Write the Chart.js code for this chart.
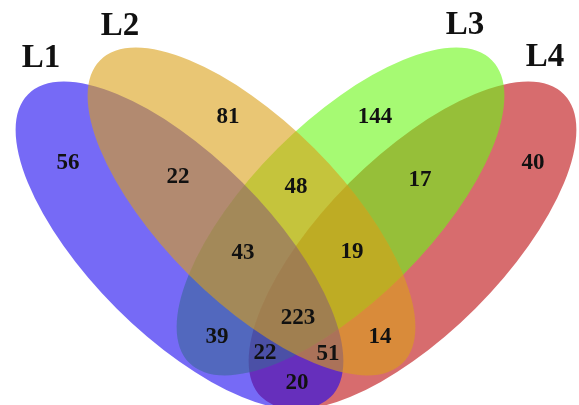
<!DOCTYPE html>
<html>
<head>
<meta charset="utf-8">
<script src="https://cdn.jsdelivr.net/npm/chart.js@4/dist/chart.umd.min.js"></script>
<style>
  html, body { margin: 0; padding: 0; background: #ffffff; }
  #wrap { position: relative; width: 579px; height: 405px; }
</style>
</head>
<body>
<div id="wrap"><canvas id="c"></canvas></div>
<script>
// ---- data ----
const setNames = ['L1', 'L2', 'L3', 'L4'];
// region membership keys (which sets the region belongs to)
const regionKeys = ['1', '2', '3', '4', '12', '23', '34', '14', '123', '234', '13', '24', '134', '124', '1234'];
const regionCounts = [56, 81, 144, 40, 22, 48, 17, 20, 43, 19, 39, 14, 22, 51, 223];

// ---- layout (positions in a 579 x 405 value space) ----
const regionAnchors = {
  '1': [68, 163], '2': [228, 117], '3': [375, 117], '4': [533, 163],
  '12': [178, 177], '23': [296, 187], '34': [420, 180], '14': [297, 383],
  '123': [243, 253], '234': [352, 252], '13': [217, 337], '24': [380, 337],
  '134': [265, 353], '124': [328, 354], '1234': [298, 318]
};
const ellipseShapes = {
  L1: { cx: 179.5, cy: 245.5, a: 214, b: 89, rot: 45 },
  L2: { cx: 251.5, cy: 211.5, a: 214, b: 89, rot: 45 },
  L3: { cx: 340.5, cy: 211.5, a: 214, b: 89, rot: -45 },
  L4: { cx: 412.5, cy: 245.5, a: 214, b: 89, rot: -45 }
};
const setLabelAnchors = { L1: [41, 58], L2: [120, 26], L3: [465, 25], L4: [545, 57] };
const setColors = {
  L1: 'rgba(27, 7, 240, 0.6)',
  L2: 'rgba(218, 160, 23, 0.6)',
  L3: 'rgba(107, 247, 22, 0.6)',
  L4: 'rgba(188, 10, 13, 0.6)'
};
const drawOrder = ['L4', 'L3', 'L1', 'L2'];

const points = regionKeys.map((k, i) => ({ x: regionAnchors[k][0], y: regionAnchors[k][1], v: regionCounts[i] }));

const vennPlugin = {
  id: 'venn',
  beforeDatasetsDraw(chart) {
    const { ctx, scales: { x, y } } = chart;
    ctx.save();
    drawOrder.forEach(name => {
      const e = ellipseShapes[name];
      const px = x.getPixelForValue(e.cx), py = y.getPixelForValue(e.cy);
      const ra = Math.abs(x.getPixelForValue(e.cx + e.a) - px);
      const rb = Math.abs(x.getPixelForValue(e.cx + e.b) - px);
      ctx.beginPath();
      ctx.ellipse(px, py, ra, rb, e.rot * Math.PI / 180, 0, Math.PI * 2);
      ctx.fillStyle = setColors[name];
      ctx.fill();
    });
    ctx.restore();
  },
  afterDatasetsDraw(chart) {
    const { ctx, scales: { x, y } } = chart;
    ctx.save();
    ctx.textAlign = 'center';
    ctx.textBaseline = 'middle';
    ctx.fillStyle = '#111111';
    ctx.font = 'bold 23px "Liberation Serif", serif';
    const meta = chart.getDatasetMeta(0);
    meta.data.forEach((el, i) => {
      ctx.fillText(String(chart.data.datasets[0].data[i].v), el.x, el.y);
    });
    ctx.font = 'bold 33px "Liberation Serif", serif';
    setNames.forEach(n => {
      const p = setLabelAnchors[n];
      ctx.fillText(n, x.getPixelForValue(p[0]), y.getPixelForValue(p[1]));
    });
    ctx.restore();
  }
};

new Chart(document.getElementById('c'), {
  type: 'scatter',
  data: {
    datasets: [{
      data: points,
      pointRadius: 0,
      pointHoverRadius: 0,
      showLine: false
    }]
  },
  options: {
    responsive: true,
    maintainAspectRatio: false,
    animation: false,
    layout: { padding: 0 },
    plugins: { legend: { display: false }, tooltip: { enabled: false } },
    scales: {
      x: { type: 'linear', min: 0, max: 579, display: false },
      y: { type: 'linear', min: 0, max: 405, reverse: true, display: false }
    }
  },
  plugins: [vennPlugin]
});
</script>
</body>
</html>
